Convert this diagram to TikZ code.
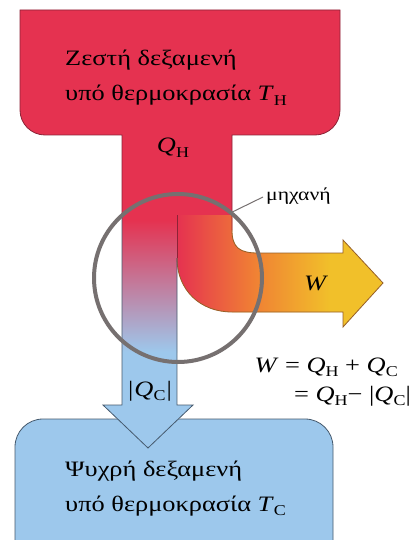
\documentclass[tikz,border=0pt]{standalone}
\usepackage{fontspec}
\setmainfont[FakeStretch=1.2]{Liberation Serif}
\definecolor{hotred}{RGB}{229,50,80}
\definecolor{hotline}{RGB}{140,35,55}
\definecolor{coldblue}{RGB}{157,200,236}
\definecolor{coldline}{RGB}{70,90,110}
\definecolor{workyel}{RGB}{241,192,42}
\definecolor{workor}{RGB}{240,128,52}
\definecolor{workline}{RGB}{150,95,40}
\definecolor{ringgray}{RGB}{118,112,112}
\newcommand\lowsub[1]{\raisebox{-0.45ex}{\fontsize{15}{15}\selectfont #1}}
\begin{document}
\begin{tikzpicture}[x=1pt,y=-1pt,
  txt/.style={font=\fontsize{22}{26}\selectfont, inner sep=0pt, text=black},
  smalltxt/.style={font=\fontsize{18}{22}\selectfont, inner sep=0pt, text=black}]
\useasboundingbox[fill=white] (0,0) rectangle (412,540);
% cold reservoir
\path[fill=coldblue, draw=coldline, line width=0.8]
  (15,545) -- (15,447) arc[start angle=180,end angle=270,radius=28] -- (305,419)
  arc[start angle=270,end angle=360,radius=28] -- (333,545);
% hot reservoir T
\path[fill=hotred]
  (20,10) -- (340,10) -- (340,110) arc[start angle=0,end angle=90,radius=25]
  -- (232,135) -- (232,232) -- (122,232) -- (122,135) -- (45,135)
  arc[start angle=90,end angle=180,radius=25] -- cycle;
% cold shaft
\begin{scope}
  \clip (122,220) rectangle (177,406);
  \fill[coldblue] (122,220) rectangle (177,406);
  \shade[top color=hotred, bottom color=coldblue] (122,220) rectangle (177,352);
\end{scope}
\path[fill=coldblue] (103,405) -- (193,405) -- (148,448) -- cycle;
% work branch
\begin{scope}
  \clip (177,215) -- (232,215) -- (232,230) .. controls (232,248) and (240,253) .. (258,253)
    -- (343,253) -- (343,240) -- (383,283) -- (343,327) -- (343,312) -- (232,312)
    .. controls (200,312) and (177,290) .. (177,258) -- cycle;
  \fill[workyel] (170,200) rectangle (390,330);
  \shade[left color=hotred, right color=workyel, middle color=workor] (177,200) rectangle (330,330);
\end{scope}
% outlines
\draw[hotline, line width=0.8]
  (122,215) -- (122,135) -- (45,135) arc[start angle=90,end angle=180,radius=25]
  -- (20,10) -- (340,10) -- (340,110) arc[start angle=0,end angle=90,radius=25]
  -- (232,135) -- (232,230);
\draw[workline, line width=0.8]
  (232,230) .. controls (232,248) and (240,253) .. (258,253)
    -- (343,253) -- (343,240) -- (383,283) -- (343,327) -- (343,312) -- (232,312)
    .. controls (200,312) and (177,290) .. (177,258);
\draw[hotline, line width=0.8] (177,215) -- (177,258);
\draw[coldline, line width=0.8]
  (122,215) -- (122,405) -- (103,405) -- (148,448) -- (193,405) -- (177,405) -- (177,258);
% engine ring
\node[circle, draw=ringgray, line width=4, minimum size=168, inner sep=0pt, outer sep=0pt] (eng) at (178,278) {};
\node[smalltxt, anchor=base west] (lbl) at (266,200) {μηχανή};
\draw[ringgray, line width=1] (eng.51) -- ([xshift=-3pt,yshift=3pt]lbl.base west);
% texts
\node[txt, anchor=base west] (hot1) at (65,66) {Ζεστή δεξαμενή};
\node[txt, anchor=base west] (hot2) at (65,101) {υπό θερμοκρασία \textit{T}\lowsub{H}};
\node[txt, anchor=base] (qh) at (173,153) {\textit{Q}\lowsub{H}};
\node[txt, anchor=base] (w) at (316,290) {\textit{W}};
\node[txt, anchor=base] (qc) at (150,396) {|\kern1pt\textit{Q}\lowsub{C}\kern1pt|};
\node[txt, anchor=base east] (eq1) at (398,372) {\textit{W} = \textit{Q}\lowsub{H} + \textit{Q}\lowsub{C}};
\node[txt, anchor=base east] (eq2) at (411,401) {= \textit{Q}\lowsub{H}− |\textit{Q}\lowsub{C}|};
\node[txt, anchor=base west] (cold1) at (65,476) {Ψυχρή δεξαμενή};
\node[txt, anchor=base west] (cold2) at (65,511) {υπό θερμοκρασία \textit{T}\lowsub{C}};
\end{tikzpicture}
\end{document}
